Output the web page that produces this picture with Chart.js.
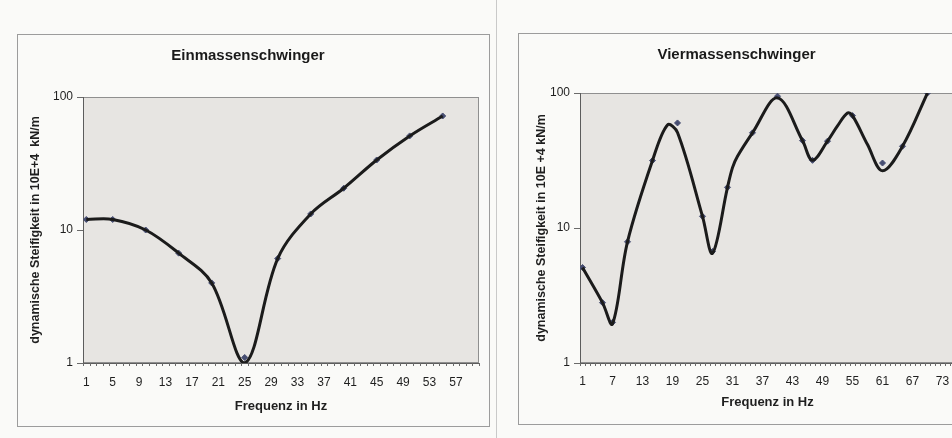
<!DOCTYPE html>
<html>
<head>
<meta charset="utf-8">
<script src="https://cdn.jsdelivr.net/npm/chart.js@4.4.0/dist/chart.umd.min.js"></script>
<style>
  html, body { margin: 0; padding: 0; width: 952px; height: 438px; overflow: hidden; background: #fafaf8; position: relative; }
  .wrap { position: absolute; }
  .frame { position: absolute; border: 1px solid #9c9c9c; box-sizing: border-box; pointer-events: none; }
  .divider { position: absolute; left: 496px; top: 0; width: 1px; height: 438px; background: #c9c9c9; }
  canvas { display: block; }
</style>
</head>
<body>
<div class="frame" style="left:17px;top:34px;width:473px;height:393px;"></div>
<div class="wrap" style="left:17px;top:34px;width:472px;height:392px;"><canvas id="ein"></canvas></div>
<div class="divider"></div>
<div class="frame" style="left:518px;top:33px;width:451px;height:392px;"></div>
<div class="wrap" style="left:518px;top:33px;width:450px;height:391px;"><canvas id="vier"></canvas></div>
<script>
// Einmassenschwinger: measured points and fitted curve (Hz, 10E+4 kN/m)
const einFreq   = [1, 5, 10, 15, 20, 25, 30, 35, 40, 45, 50, 55];
const einMess   = [12, 12, 10, 6.7, 4.0, 1.1, 6.1, 13.2, 20.6, 33.6, 51, 72];
const einKurve  = [12, 12, 10, 6.7, 4.0, 1.0, 6.1, 13.2, 20.6, 33.6, 51, 72];
const einTicks  = [1, 5, 9, 13, 17, 21, 25, 29, 33, 37, 41, 45, 49, 53, 57];
const einCategories = 60;

// Viermassenschwinger
const vierFreq  = [1, 5, 7, 10, 15, 20, 25, 27, 30, 35, 40, 45, 47, 50, 55, 61, 65, 70];
const vierMess  = [5.1, 2.8, 2.0, 7.9, 31.6, 60, 12.2, 6.7, 20, 50.7, 94.7, 44.4, 31.7, 44, 68, 30.3, 40.3, 100];
const vierKurveFreq = [1, 5, 7, 10, 15, 18, 20, 25, 27, 30, 31, 32, 35, 40, 45, 47, 50, 52, 54, 55, 58, 61, 65, 70];
const vierKurve     = [5.1, 2.8, 1.95, 7.9, 31.6, 58, 51, 12.2, 6.5, 20, 28, 34, 50.7, 92, 44.4, 31.7, 44, 57, 71, 68, 41.5, 26.5, 40.3, 100];
const vierTicks = [1, 7, 13, 19, 25, 31, 37, 43, 49, 55, 61, 67, 73];
const vierCategories = 75;

const yTicks = [1, 10, 100];
const FONT = '"Liberation Sans", Arial, sans-serif';
const TEXT = '#1f1f1f';

function pairs(xs, ys) { return xs.map((x, i) => ({ x: x, y: ys[i] })); }

// grey plot area with a thin frame, Excel style
const plotArea = {
  id: 'plotArea',
  beforeDraw(chart) {
    const { ctx, chartArea: a } = chart;
    ctx.save();
    ctx.fillStyle = '#e7e5e2';
    ctx.fillRect(a.left, a.top, a.right - a.left, a.bottom - a.top);
    ctx.strokeStyle = '#8f8f8f';
    ctx.lineWidth = 1;
    ctx.strokeRect(a.left + 0.5, a.top + 0.5, a.right - a.left - 1, a.bottom - a.top - 1);
    ctx.restore();
  },
  afterDraw(chart, args, opts) {
    // small marks at the category boundaries below the x axis
    const x = chart.scales.x, a = chart.chartArea, ctx = chart.ctx;
    ctx.save();
    ctx.strokeStyle = '#6a6a6a';
    ctx.lineWidth = 1;
    ctx.beginPath();
    for (let k = 0; k <= opts.categories; k++) {
      const px = Math.round(x.getPixelForValue(k + 0.5)) + 0.5;
      ctx.moveTo(px, a.bottom);
      ctx.lineTo(px, a.bottom + 3);
    }
    ctx.stroke();
    ctx.restore();
  }
};

function makeChart(id, cfg) {
  return new Chart(document.getElementById(id), {
    type: 'line',
    data: {
      datasets: [
        {
          data: cfg.curve,
          borderColor: '#1b1b1b',
          borderWidth: 3,
          tension: 0.35,
          pointRadius: 0,
          fill: false
        },
        {
          data: cfg.points,
          showLine: false,
          pointStyle: 'rectRot',
          pointRadius: 3,
          pointBackgroundColor: '#474e72',
          pointBorderColor: '#474e72',
          pointBorderWidth: 1
        }
      ]
    },
    options: {
      responsive: true,
      maintainAspectRatio: false,
      animation: false,
      events: [],
      layout: { padding: { left: 0, right: cfg.padRight, top: 0, bottom: 0 } },
      plugins: {
        legend: { display: false },
        tooltip: { enabled: false },
        title: {
          display: true,
          text: cfg.title,
          color: '#1a1a1a',
          font: { family: FONT, size: 15, weight: 'bold' },
          padding: { top: cfg.titleTop, bottom: cfg.titleBottom }
        },
        plotArea: { categories: cfg.categories }
      },
      scales: {
        x: {
          type: 'linear',
          min: 0.5,
          max: cfg.categories + 0.5,
          afterBuildTicks(s) { s.ticks = cfg.ticks.map(v => ({ value: v })); },
          afterFit(s) { s.height = cfg.xHeight; },
          grid: { display: false, drawTicks: false },
          border: { display: true, color: '#5c5c5c', width: 1 },
          ticks: {
            autoSkip: false, maxRotation: 0, padding: cfg.xTickPad,
            color: TEXT, font: { family: FONT, size: 12 },
            callback: v => String(v)
          },
          title: {
            display: true, text: 'Frequenz in Hz', color: TEXT,
            font: { family: FONT, size: 13, weight: 'bold' },
            padding: { top: 0, bottom: cfg.xTitleBottom }
          }
        },
        y: {
          type: 'logarithmic',
          min: 1,
          max: 100,
          afterBuildTicks(s) { s.ticks = yTicks.map(v => ({ value: v })); },
          afterFit(s) { s.width = cfg.yWidth; },
          grid: { display: true, drawOnChartArea: false, drawTicks: true, tickLength: 6, color: '#6a6a6a' },
          border: { display: true, color: '#5c5c5c', width: 1 },
          ticks: {
            padding: 4, color: TEXT, font: { family: FONT, size: 12 },
            callback: v => String(v)
          },
          title: {
            display: true, text: cfg.yTitle, color: TEXT,
            font: { family: FONT, size: 12.5, weight: 'bold' },
            padding: { top: cfg.yTitleTop, bottom: 0 }
          }
        }
      }
    },
    plugins: [plotArea]
  });
}

makeChart('ein', {
  title: 'Einmassenschwinger',
  yTitle: 'dynamische Steifigkeit in 10E+4  kN/m',
  curve: pairs(einFreq, einKurve),
  points: pairs(einFreq, einMess),
  ticks: einTicks,
  categories: einCategories,
  padRight: 10,
  titleTop: 13, titleBottom: 32,
  yWidth: 66, yTitleTop: 11.5,
  xHeight: 63, xTickPad: 12, xTitleBottom: 12
});

makeChart('vier', {
  title: 'Viermassenschwinger',
  yTitle: 'dynamische Steifigkeit in 10E +4 kN/m',
  curve: pairs(vierKurveFreq, vierKurve),
  points: pairs(vierFreq, vierMess),
  ticks: vierTicks,
  categories: vierCategories,
  padRight: 13,
  titleTop: 13, titleBottom: 29,
  yWidth: 62, yTitleTop: 16.5,
  xHeight: 61, xTickPad: 11, xTitleBottom: 13.5
});
</script>
</body>
</html>
